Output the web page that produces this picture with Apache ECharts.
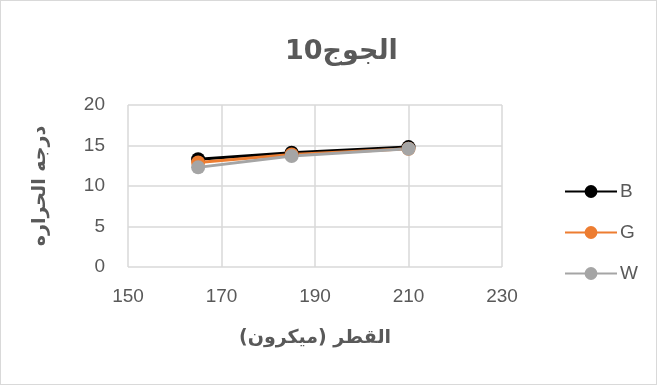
<!DOCTYPE html>
<html><head><meta charset="utf-8">
<script src="https://cdn.jsdelivr.net/npm/echarts@6/dist/echarts.min.js"></script>
<style>html,body{margin:0;padding:0;background:#fff}#c{width:657px;height:385px;box-sizing:border-box;border:1px solid #d9d9d9}</style>
</head><body><div id="c"></div>
<script>
const xValues = [165, 185, 210];
const seriesB = [13.3, 14.1, 14.8];
const seriesG = [12.9, 13.9, 14.6];
const seriesW = [12.3, 13.7, 14.6];
const seriesNames = ['B', 'G', 'W'];
const colors = ['#000000', '#ED7D31', '#A5A5A5'];
const title = 'الجوج10';
const xName = 'القطر (ميكرون)';
const yName = 'درجه الحراره';

const chart = echarts.init(document.getElementById('c'));
const data = [seriesB, seriesG, seriesW];
const txt = '#595959';
chart.setOption({
  animation: false,
  title: { text: title, left: 284, top: 37, padding: 0, textStyle: { fontFamily: 'DejaVu Sans', fontSize: 27, fontWeight: 'bold', color: txt } },
  grid: { left: 127, right: 154, top: 104, bottom: 117 },
  xAxis: {
    type: 'value', min: 150, max: 230, interval: 20,
    axisLine: { show: false }, axisTick: { show: false },
    splitLine: { lineStyle: { color: '#d9d9d9', width: 1.5 } },
    axisLabel: { color: txt, fontSize: 19, fontFamily: 'Liberation Sans', margin: 20 },
    name: xName, nameLocation: 'middle', nameGap: 62,
    nameTextStyle: { fontFamily: 'DejaVu Sans', fontSize: 19, fontWeight: 'bold', color: txt }
  },
  yAxis: {
    type: 'value', min: 0, max: 20, interval: 5,
    axisLine: { show: false }, axisTick: { show: false },
    splitLine: { lineStyle: { color: '#d9d9d9', width: 1.5 } },
    axisLabel: { color: txt, fontSize: 19, fontFamily: 'Liberation Sans', margin: 23 },
    name: yName, nameLocation: 'middle', nameGap: 78, nameRotate: 90,
    nameTextStyle: { fontFamily: 'DejaVu Sans', fontSize: 19, fontWeight: 'bold', color: txt }
  },
  legend: {
    orient: 'vertical', left: 558, top: 176, itemGap: 22, itemWidth: 52, itemHeight: 16, itemStyle: {},
    textStyle: { color: txt, fontSize: 19, fontFamily: 'Liberation Sans', padding: [0, 0, 0, -2] },
    data: seriesNames
  },
  series: seriesNames.map((n, i) => ({
    name: n, type: 'line', symbol: 'circle', symbolSize: 14,
    data: xValues.map((x, j) => [x, data[i][j]]),
    itemStyle: { color: colors[i] },
    lineStyle: { color: colors[i], width: 3 }
  }))
});
</script></body></html>
